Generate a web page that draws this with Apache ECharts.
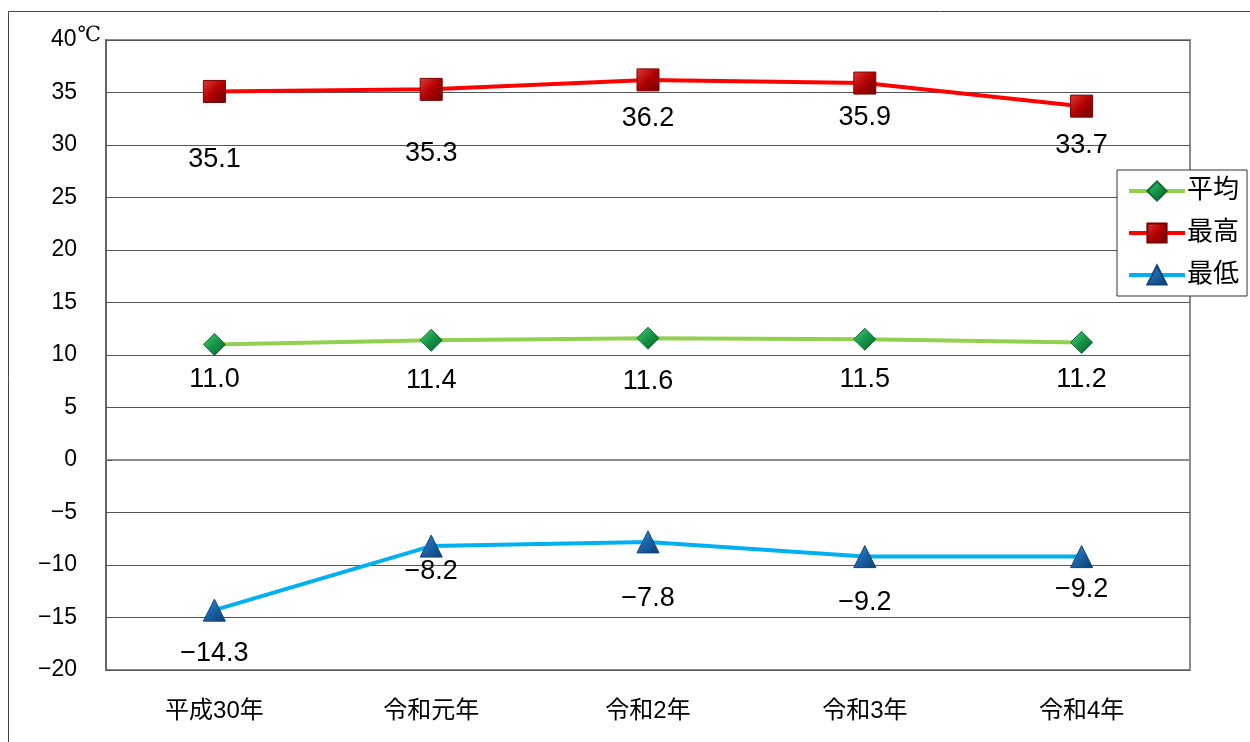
<!doctype html>
<html>
<head>
    <meta charset="utf-8">
    <title>気温の推移</title>
    <script src="https://cdn.jsdelivr.net/npm/echarts@6/dist/echarts.min.js"></script>
</head>
<style>
    html, body {
        margin: 0;
        padding: 0;
        background: #fff;
    }
    #chart {
        width: 1250px;
        height: 742px;
    }
</style>
<body>
<div id="chart"></div>
<script>
  var years = ['平成30年', '令和元年', '令和2年', '令和3年', '令和4年'];
  var avgTemp = [11.0, 11.4, 11.6, 11.5, 11.2];
  var maxTemp = [35.1, 35.3, 36.2, 35.9, 33.7];
  var minTemp = [-14.3, -8.2, -7.8, -9.2, -9.2];

  // label distance below each point (px), as placed in the original
  var avgLabelGap = [10, 15, 18, 15, 12];
  var maxLabelGap = [43, 39, 14, 9, 14];
  var minLabelGap = [18, 0, 32, 21, 8];

  var FONT = "'Liberation Sans', 'Noto Sans CJK JP', sans-serif";

  function withLabels(values, gaps) {
    return values.map(function (v, i) {
      return {
        value: v,
        label: { distance: gaps[i] }
      };
    });
  }

  function minusFmt(p) {
    var v = p.value;
    return (v < 0 ? '\u2212' + Math.abs(v).toFixed(1) : v.toFixed(1));
  }

  var labelStyle = {
    show: true,
    position: 'bottom',
    color: '#000',
    fontSize: 27,
    fontFamily: FONT,
    formatter: minusFmt
  };

  var myChart = echarts.init(document.getElementById('chart'));

  var option = {
    backgroundColor: '#fff',
    animation: false,
    graphic: [{
      type: 'rect',
      shape: { x: 8.5, y: 11.5, width: 1260, height: 760 },
      style: { fill: 'none', stroke: '#444', lineWidth: 1 },
      z: -1
    }],
    grid: {
      left: 106,
      top: 40,
      right: 60,
      bottom: 72,
      show: true,
      borderColor: '#8c8c8c',
      borderWidth: 2
    },
    legend: {
      orient: 'vertical',
      left: 1117,
      top: 170,
      width: 131,
      padding: [8, 8, 8, 10],
      itemGap: 16,
      itemWidth: 56,
      itemHeight: 24,
      backgroundColor: '#fff',
      borderColor: '#333',
      borderWidth: 1,
      borderRadius: 0,
      lineStyle: { width: 4 },
      textStyle: {
        fontSize: 26,
        color: '#000',
        fontFamily: FONT,
        padding: [0, 0, 0, -3]
      },
      data: ['平均', '最高', '最低']
    },
    xAxis: {
      type: 'category',
      data: years,
      boundaryGap: true,
      axisLine: { show: true, lineStyle: { color: '#8c8c8c', width: 2 } },
      axisTick: { show: false },
      axisLabel: {
        margin: 29,
        fontSize: 24,
        color: '#000',
        fontFamily: FONT
      }
    },
    yAxis: {
      type: 'value',
      min: -20,
      max: 40,
      interval: 5,
      axisLine: { show: true, lineStyle: { color: '#666', width: 2 } },
      axisTick: { show: true, inside: true, length: 6, lineStyle: { color: '#555' } },
      splitLine: { lineStyle: { color: '#555', width: 1 } },
      axisLabel: {
        margin: 29,
        fontSize: 23,
        color: '#000',
        fontFamily: FONT,
        formatter: function (v) {
          return v === 40 ? '40{u|℃}' : (v < 0 ? '\u2212' + Math.abs(v) : String(v));
        },
        rich: {
          u: {
            fontSize: 21,
            fontFamily: "'DejaVu Serif', serif",
            color: '#000',
            verticalAlign: 'top',
            padding: [0, -24, 8, 1]
          }
        }
      }
    },
    series: [{
      name: '平均',
      type: 'line',
      data: withLabels(avgTemp, avgLabelGap),
      symbol: 'diamond',
      symbolSize: [22, 22],
      lineStyle: { color: '#92d050', width: 4 },
      itemStyle: {
        color: new echarts.graphic.LinearGradient(0, 0, 1, 1, [
          { offset: 0, color: '#4fd07c' },
          { offset: 0.5, color: '#159447' },
          { offset: 1, color: '#0b5e2a' }
        ]),
        borderColor: '#0f6a31',
        borderWidth: 1
      },
      label: labelStyle,
      z: 3
    }, {
      name: '最高',
      type: 'line',
      data: withLabels(maxTemp, maxLabelGap),
      symbol: 'rect',
      symbolSize: [22, 22],
      lineStyle: { color: '#ff0000', width: 4 },
      itemStyle: {
        color: new echarts.graphic.LinearGradient(0, 0, 1, 1, [
          { offset: 0, color: '#e83a3a' },
          { offset: 0.5, color: '#b00000' },
          { offset: 1, color: '#6e0000' }
        ]),
        borderColor: '#7a0000',
        borderWidth: 1
      },
      label: labelStyle,
      z: 3
    }, {
      name: '最低',
      type: 'line',
      data: withLabels(minTemp, minLabelGap),
      symbol: 'triangle',
      symbolSize: [22, 22],
      lineStyle: { color: '#00b0f0', width: 4 },
      itemStyle: {
        color: new echarts.graphic.LinearGradient(0, 0, 1, 1, [
          { offset: 0, color: '#3f8fdc' },
          { offset: 0.5, color: '#1b62a8' },
          { offset: 1, color: '#0c3d6e' }
        ]),
        borderColor: '#0f4576',
        borderWidth: 1
      },
      label: labelStyle,
      z: 3
    }]
  };

  myChart.setOption(option);
</script>
</body>
</html>
